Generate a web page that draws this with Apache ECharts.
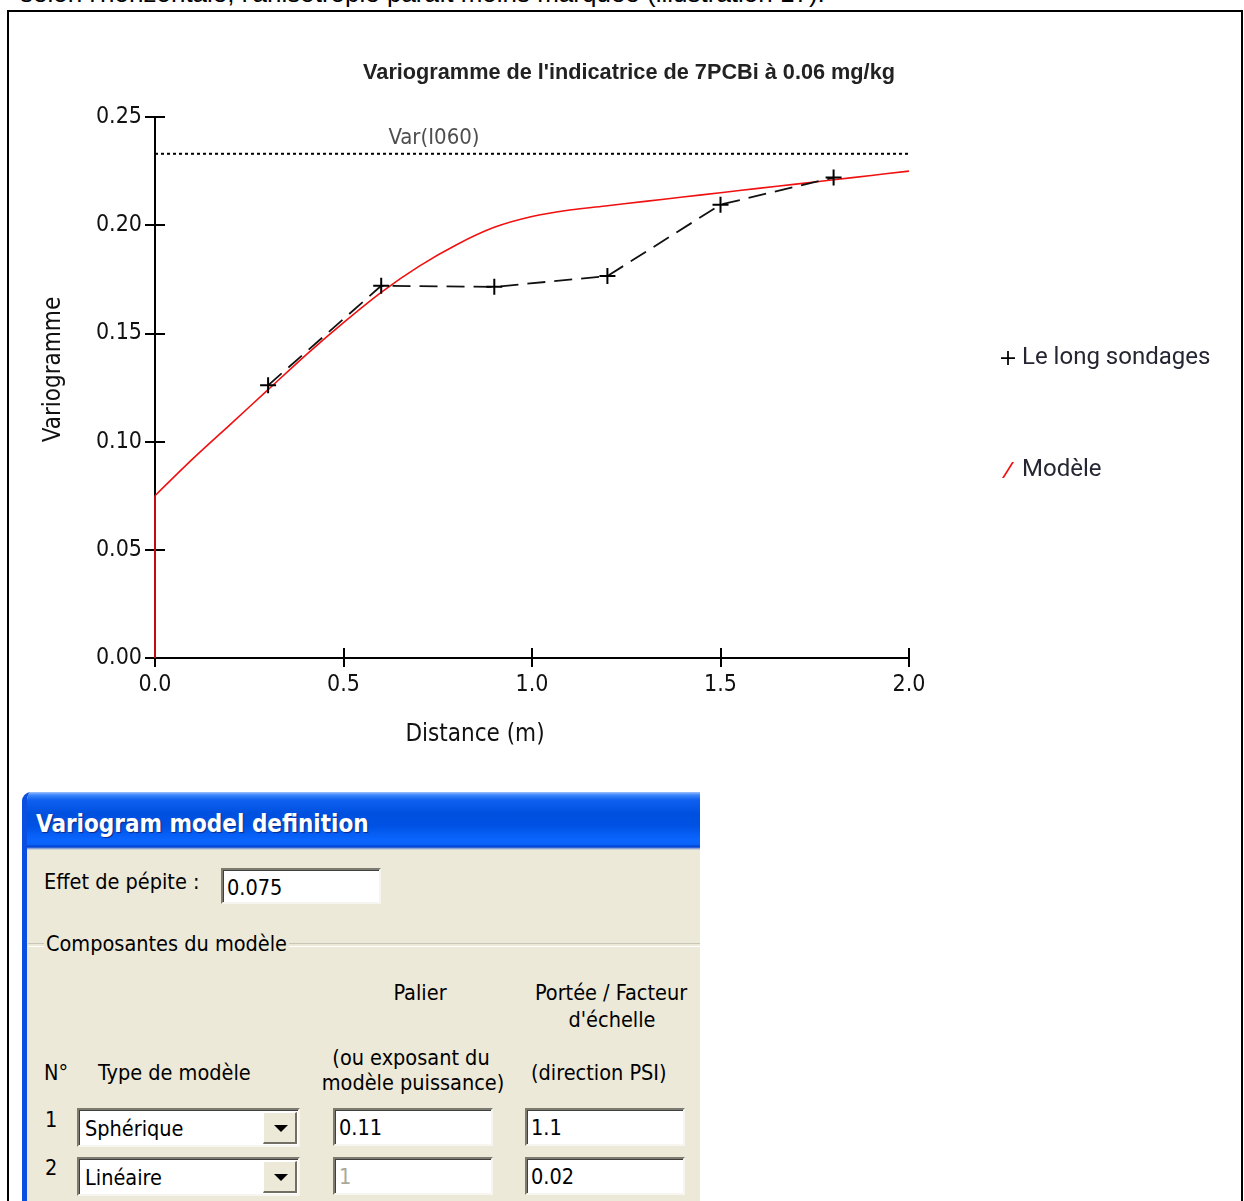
<!DOCTYPE html>
<html><head><meta charset="utf-8">
<script src="https://cdn.jsdelivr.net/npm/echarts@6/dist/echarts.min.js"></script>
<style>
html,body{margin:0;padding:0;background:#fff;width:1244px;height:1201px;overflow:hidden;position:relative;}
.narrow{font-family:'DejaVu Sans Condensed','Liberation Sans',Arial,sans-serif;}
#toptext{position:absolute;left:20px;top:-22px;font-family:'Liberation Sans',Arial,sans-serif;font-size:26px;line-height:30px;color:#000;white-space:nowrap;}
#frame{position:absolute;left:7px;top:10px;width:1236px;height:1260px;border:2px solid #000;box-sizing:border-box;}
#chart{position:absolute;left:0;top:0;width:1244px;height:780px;}
#dlg{position:absolute;left:22px;top:792px;width:678px;height:420px;background:#ECE9D8;border-top-left-radius:9px;overflow:hidden;border-left:5px solid #0A4FE0;box-sizing:border-box;}
#dlgtitle{position:absolute;left:0;top:0;width:100%;height:58px;
 background:linear-gradient(to bottom,#9ec2ff 0px,#3d86fb 3px,#0f5ff0 8px,#0050e0 22px,#0052e4 34px,#0a66ff 48px,#0a64fb 52px,#0040d0 55px,#b8c4dc 57px,#d8d8d0 58px);}
#dlgtitle span{position:absolute;left:9px;top:18px;color:#fff;font-family:'DejaVu Sans Condensed','Liberation Sans',sans-serif;font-weight:bold;font-size:24px;line-height:28px;text-shadow:1px 1px 1px #0a2a8a;}
.t{position:absolute;font-size:21.5px;color:#000;white-space:nowrap;line-height:28px;}
.c{transform:translateX(-50%);text-align:center;}
.box{position:absolute;background:#fff;box-sizing:border-box;border-top:2px solid #7d7b70;border-left:2px solid #7d7b70;border-bottom:2px solid #f6f5ef;border-right:2px solid #f6f5ef;box-shadow:inset 1px 1px 0 #404040;}
.box span{position:absolute;left:4px;top:4px;font-size:21.5px;line-height:28px;}
.btn{position:absolute;right:1px;top:2px;width:34px;height:32px;background:#ECE9D8;box-sizing:border-box;border-top:1px solid #fff;border-left:1px solid #fff;border-right:2px solid #716f64;border-bottom:2px solid #716f64;}
.btn:after{content:'';position:absolute;left:10px;top:12px;border-left:7px solid transparent;border-right:7px solid transparent;border-top:7px solid #000;}
#grp{position:absolute;left:28px;top:943px;width:672px;height:2px;border-top:1px solid #c8c6b8;border-bottom:1px solid #fff;}
</style></head><body>
<div id="toptext">selon l'horizontale, l'anisotropie paraît moins marquée (illustration 17).</div>
<div id="frame"></div>
<div id="chart"></div>
<div id="dlg"><div id="dlgtitle"><span>Variogram model definition</span></div></div>
<div id="grp"></div>
<div class="narrow">
 <div class="t" style="left:44px;top:868px;">Effet de pépite :</div>
 <div class="box" style="left:221px;top:868px;width:160px;height:36px;"><span>0.075</span></div>
 <div class="t" style="left:44px;top:930px;background:#ECE9D8;padding:0 2px;">Composantes du modèle</div>
 <div class="t c" style="left:420px;top:979px;">Palier</div>
 <div class="t c" style="left:611px;top:979px;">Portée / Facteur</div>
 <div class="t c" style="left:612px;top:1006px;">d'échelle</div>
 <div class="t c" style="left:411px;top:1044px;">(ou exposant du</div>
 <div class="t c" style="left:413px;top:1069px;">modèle puissance)</div>
 <div class="t" style="left:44px;top:1059px;">N°</div>
 <div class="t" style="left:98px;top:1059px;">Type de modèle</div>
 <div class="t" style="left:531px;top:1059px;">(direction PSI)</div>
 <div class="t" style="left:45px;top:1106px;">1</div>
 <div class="t" style="left:45px;top:1154px;">2</div>
 <div class="box" style="left:77px;top:1108px;width:223px;height:39px;"><span style="left:6px;top:5px;">Sphérique</span><div class="btn"></div></div>
 <div class="box" style="left:333px;top:1108px;width:160px;height:38px;"><span>0.11</span></div>
 <div class="box" style="left:525px;top:1108px;width:160px;height:38px;"><span>1.1</span></div>
 <div class="box" style="left:77px;top:1157px;width:223px;height:39px;"><span style="left:6px;top:5px;">Linéaire</span><div class="btn"></div></div>
 <div class="box" style="left:333px;top:1157px;width:160px;height:38px;"><span style="color:#aca899;">1</span></div>
 <div class="box" style="left:525px;top:1157px;width:160px;height:38px;"><span>0.02</span></div>
</div>
<script>
// ---- data ----
const chartTitle = "Variogramme de l'indicatrice de 7PCBi à 0.06 mg/kg";
const xName = 'Distance (m)';
const yName = 'Variogramme';
const seriesNames = ['Le long sondages', 'Modèle'];
const expDistance = [0.3, 0.6, 0.9, 1.2, 1.5, 1.8];
const expGamma = [0.126, 0.172, 0.1715, 0.1765, 0.2095, 0.222];
// nugget jump at the origin
const nuggetDistance = [0.0, 0.0];
const nuggetGamma = [0.0, 0.075];
// model curve after the jump
const modelDistance = [0.0, 0.1, 0.2, 0.3, 0.4, 0.5, 0.6, 0.7, 0.8, 0.9, 1.0, 1.1, 1.2, 1.3, 1.4, 1.5, 1.6, 1.7, 1.8, 1.9, 2.0];
const modelGamma = [0.075, 0.092, 0.108, 0.124, 0.140, 0.155, 0.169, 0.181, 0.191, 0.199, 0.204, 0.207, 0.209, 0.211, 0.213, 0.215, 0.217, 0.219, 0.221, 0.223, 0.225];
const varValue = 0.233;
const varLabel = 'Var(I060)';
const varLabelDistance = 0.74;
const xMin = 0, xMax = 2.0, xStep = 0.5;
const yMin = 0, yMax = 0.25, yStep = 0.05;

const NARROW = "'DejaVu Sans Condensed','Liberation Sans',Arial,sans-serif";
const crossPath = 'path://M7,0H9V7H16V9H9V16H7V9H0V7H7Z';
const slashPath = 'path://M10,0L12,0L2,16L0,16Z';
const RED = '#f01010';

const chart = echarts.init(document.getElementById('chart'), null, {renderer: 'canvas', width: 1244, height: 780});

const axisBase = (extra) => Object.assign({
  type: 'value', splitLine: {show: false}
}, extra);
const pairs = (xs, ys) => xs.map((x, i) => [x, ys[i]]);

chart.setOption({
  animation: false,
  title: {
    text: chartTitle, left: 624, top: 57, textAlign: 'center',
    textStyle: {fontFamily: "'Liberation Sans',Arial,sans-serif", fontWeight: 'bold', fontSize: 21.7, color: '#222'}
  },
  grid: {left: 155, right: 335, top: 117, bottom: 122, containLabel: false},
  legend: {
    orient: 'vertical', left: 996, top: 341, itemGap: 88, itemWidth: 14, itemHeight: 16,
    data: [{name: seriesNames[0], icon: crossPath}, {name: seriesNames[1], icon: slashPath}],
    textStyle: {fontFamily: "Roboto,'Liberation Sans',sans-serif", fontSize: 24, color: '#262633', padding: [0, 0, 0, 2]}
  },
  xAxis: [
    axisBase({
      min: xMin, max: xMax, interval: xStep,
      name: xName, nameLocation: 'middle', nameGap: 65,
      nameTextStyle: {fontFamily: NARROW, fontSize: 24, color: '#111', padding: [0, 114, 0, 0]},
      axisLine: {show: true, onZero: false, lineStyle: {color: '#000', width: 2}},
      axisTick: {show: true, length: 9, lineStyle: {color: '#000', width: 2}},
      axisLabel: {margin: 16, fontFamily: NARROW, fontSize: 23, color: '#111', formatter: v => v.toFixed(1)}
    }),
    axisBase({
      min: xMin, max: xMax, interval: xStep, position: 'bottom',
      axisLine: {show: false}, axisLabel: {show: false},
      axisTick: {show: true, inside: true, length: 10, lineStyle: {color: '#000', width: 2}}
    })
  ],
  yAxis: [
    axisBase({
      min: yMin, max: yMax, interval: yStep,
      name: yName, nameLocation: 'middle', nameGap: 89,
      nameTextStyle: {fontFamily: NARROW, fontSize: 24, color: '#111', padding: [0, 0, 0, 36]},
      axisLine: {show: true, onZero: false, lineStyle: {color: '#000', width: 2}},
      axisTick: {show: true, length: 10, lineStyle: {color: '#000', width: 2}},
      axisLabel: {margin: 13, fontFamily: NARROW, fontSize: 23, color: '#111', formatter: v => v.toFixed(2)}
    }),
    axisBase({
      min: yMin, max: yMax, interval: yStep, position: 'left', offset: 0,
      axisLine: {show: false}, axisLabel: {show: false},
      axisTick: {show: true, inside: true, length: 10, lineStyle: {color: '#000', width: 2}}
    })
  ],
  series: [
    {
      name: 'variance', type: 'line', symbol: 'none', silent: true,
      data: [[xMin, varValue], [xMax, varValue]],
      lineStyle: {color: '#000', width: 2, type: [3, 3]}
    },
    {
      name: 'varLabel', type: 'scatter', symbolSize: 1, silent: true,
      itemStyle: {color: 'rgba(0,0,0,0)'},
      data: [[varLabelDistance, varValue]],
      label: {show: true, position: 'top', distance: 4, formatter: varLabel, fontFamily: NARROW, fontSize: 22, color: '#222'}
    },
    {
      name: seriesNames[1], type: 'line', symbol: 'none', color: RED,
      data: pairs(nuggetDistance, nuggetGamma),
      lineStyle: {color: RED, width: 1.6}
    },
    {
      name: seriesNames[1], type: 'line', symbol: 'none', color: RED, smooth: 0.3,
      data: pairs(modelDistance, modelGamma),
      lineStyle: {color: RED, width: 1.6}
    },
    {
      name: seriesNames[0], type: 'line', color: '#000',
      symbol: crossPath, symbolSize: 16, showSymbol: true,
      itemStyle: {color: '#000'},
      data: pairs(expDistance, expGamma),
      lineStyle: {color: '#111', width: 1.8, type: [18, 9]}
    }
  ]
});
</script>
</body></html>
